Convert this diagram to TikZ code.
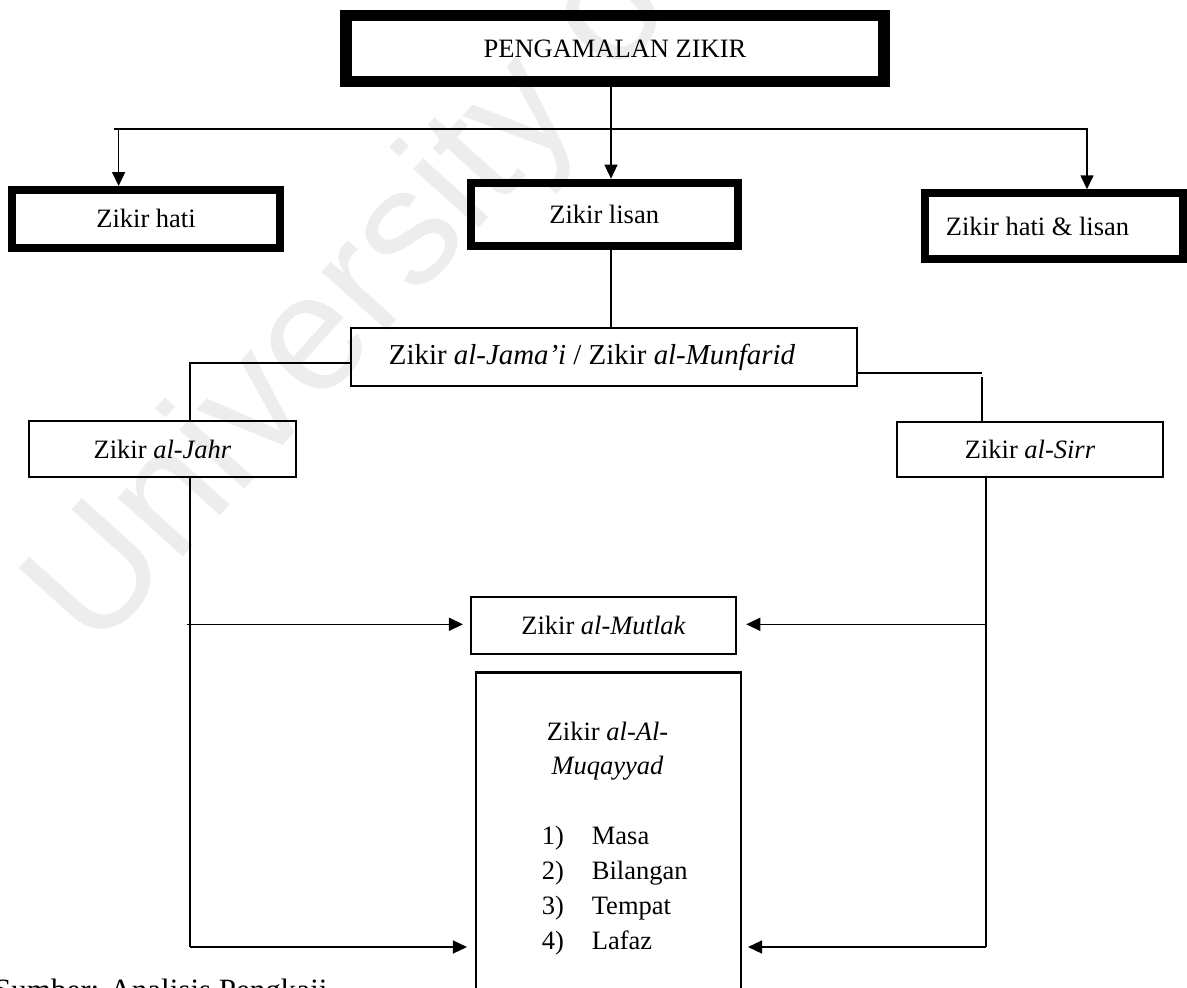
\documentclass[tikz,border=0pt]{standalone}
\usepackage{fontspec}
\setmainfont{Liberation Serif}
\newfontfamily\wmfont{Liberation Sans}
\usetikzlibrary{arrows.meta}

\begin{document}
\begin{tikzpicture}[x=1pt,y=-1pt,
  every node/.style={font=\fontsize{26.5}{29}\selectfont, inner sep=0pt},
  titlebox/.style={draw, line width=11.5pt},
  heavybox/.style={draw, line width=8pt},
  plainbox/.style={draw, line width=2.5pt},
  link/.style={line width=1.5pt},
  arrow/.style={link, -{Triangle[length=14pt,width=13pt]}},
]
\useasboundingbox (0,0) rectangle (1187,988);

% faint watermark behind everything
\node[font=\wmfont\fontsize{166}{166}\selectfont, text=black!7, rotate=48, anchor=base west] (wm) at (95,655) {University of};

% boxes
\node[titlebox, minimum width=538pt, minimum height=66pt] (top) at (615,48.4) {PENGAMALAN ZIKIR};
\node[heavybox, minimum width=267.2pt, minimum height=57.8pt] (hati) at (146,218.9) {Zikir hati};
\node[heavybox, minimum width=267pt, minimum height=63.7pt] (lisan) at (604.2,214.5) {Zikir lisan};
\node[heavybox, minimum width=258.3pt, minimum height=66pt] (both) at (1054,226.3) {Zikir hati \& lisan\hspace*{33pt}};
\node[plainbox, minimum width=505.6pt, minimum height=57.6pt, font=\fontsize{28.9}{31}\selectfont] (jamai) at (604,357)
  {Zikir \textit{al-Jama’i} / Zikir \textit{al-Munfarid}\hspace*{24pt}};
\node[plainbox, minimum width=266.6pt, minimum height=56pt] (jahr) at (162.5,449.2) {Zikir \textit{al-Jahr}};
\node[plainbox, minimum width=265.6pt, minimum height=55pt] (sirr) at (1030,449.5) {Zikir \textit{al-Sirr}};
\node[plainbox, minimum width=264.8pt, minimum height=56.8pt] (mutlak) at (603.6,625.4) {Zikir \textit{al-Mutlak}};
\node[plainbox, anchor=north, minimum width=264.6pt, minimum height=340pt] (muqayyad) at (608.5,671) {};

% contents of the open box
\node[anchor=base] (muqA) at (607.5,740) {Zikir \textit{al-Al-}};
\node[anchor=base] (muqB) at (607.5,774) {\textit{Muqayyad}};
\node[anchor=base west] (item1) at (541.7,844) {\makebox[50pt][l]{1)}Masa};
\node[anchor=base west] (item2) at (541.7,879) {\makebox[50pt][l]{2)}Bilangan};
\node[anchor=base west] (item3) at (541.7,914) {\makebox[50pt][l]{3)}Tempat};
\node[anchor=base west] (item4) at (541.7,949) {\makebox[50pt][l]{4)}Lafaz};

% top-level branching
\coordinate (trunk) at (611,129);
\coordinate (barL) at (114,129);
\coordinate (barR) at (1088,129);
\coordinate (dropL) at (118.6,129);
\coordinate (dropR) at (1087,129);
\draw[link] (top.south -| trunk) -- (trunk);
\draw[link] (barL) -- (barR);
\draw[arrow] (dropL) -- (dropL |- hati.north);
\draw[arrow] (trunk) -- (trunk |- lisan.north);
\draw[arrow] (dropR) -- (dropR |- both.north);

% second level
\draw[link] (lisan.south -| trunk) -- (jamai.north -| trunk);
\coordinate (elbowL) at (190,363);
\draw[link] (jamai.west |- elbowL) -- (elbowL) -- (elbowL |- jahr.north);
\coordinate (elbowR) at (982,373);
\coordinate (stubR) at (982,377);
\draw[link] (jamai.east |- elbowR) -- (elbowR);
\draw[link] (stubR) -- (stubR |- sirr.north);

% left trunk to the two lower boxes
\coordinate (footL) at (190,947);
\coordinate (tapL) at (187,624.3);
\draw[link] (jahr.south -| footL) -- (footL);
\draw[arrow, shorten >=7pt] (tapL) -- (mutlak.west |- tapL);
\draw[arrow, shorten >=8pt] (footL) -- (muqayyad.west |- footL);

% right trunk to the two lower boxes
\coordinate (footR) at (986,947);
\coordinate (tapR) at (986,624.3);
\draw[link] (sirr.south -| footR) -- (footR);
\draw[arrow, shorten >=9pt] (tapR) -- (mutlak.east |- tapR);
\draw[arrow, shorten >=6pt] (footR) -- (muqayyad.east |- footR);

% source line, running off the lower left corner
\node[anchor=base west, font=\fontsize{31}{33}\selectfont] (source) at (-6,1000.5) {Sumber: Analisis Pengkaji};
\end{tikzpicture}
\end{document}
